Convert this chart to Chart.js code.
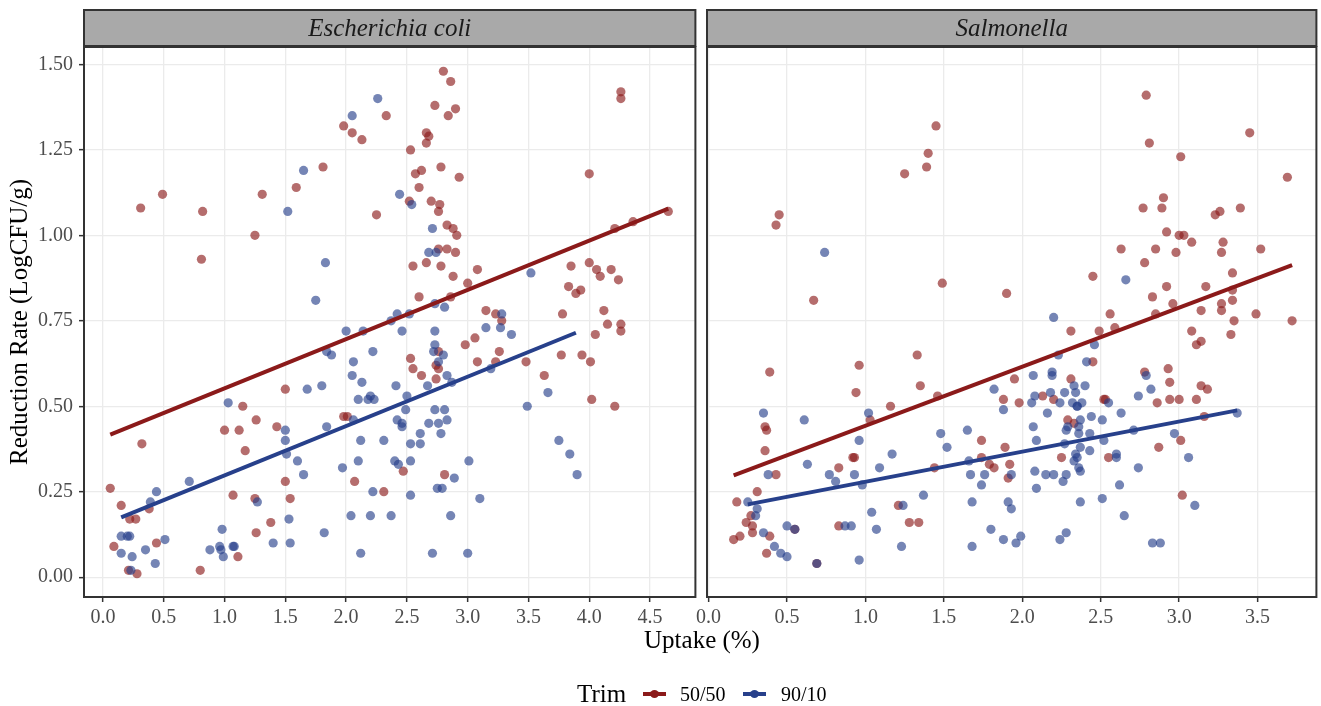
<!DOCTYPE html>
<html>
<head>
<meta charset="utf-8">
<script src="https://cdn.jsdelivr.net/npm/chart.js@4.4.1/dist/chart.umd.min.js"></script>
<style>
  body { margin: 0; background: #fff; font-family: "Liberation Serif", "Times New Roman", serif; }
  #wrap { position: relative; width: 1321px; height: 706px; overflow: hidden; }
  #ecoli { position: absolute; left: 0; top: 0; }
  #salm { position: absolute; left: 690px; top: 0; }
  .xtitle { position: absolute; left: 602px; top: 625px; width: 200px; text-align: center; font-size: 25px; line-height: 30px; color: #000; }
  .lg { position: absolute; color: #000; white-space: nowrap; }
  .key { position: absolute; top: 692px; width: 23px; height: 4px; }
  .key::after { content: ''; position: absolute; left: 7px; top: -2px; width: 9px; height: 8px; border-radius: 50%; background: inherit; }
</style>
</head>
<body>
<div id="wrap">
  <canvas id="ecoli" width="700" height="706"></canvas>
  <canvas id="salm" width="631" height="706"></canvas>
  <div class="xtitle">Uptake (%)</div>
  <div class="lg" style="left:577px;top:679px;font-size:25px;line-height:30px">Trim</div>
  <div class="key" style="left:643px;background:#8B1A1A"></div>
  <div class="lg" style="left:680px;top:682px;font-size:20px;line-height:24px">50/50</div>
  <div class="key" style="left:743px;background:#27408B"></div>
  <div class="lg" style="left:781px;top:682px;font-size:20px;line-height:24px">90/10</div>
</div>
<script>
// tick labels
const yTicks = [0, 0.25, 0.5, 0.75, 1.0, 1.25, 1.5];
const ecoliXTicks = [0, 0.5, 1.0, 1.5, 2.0, 2.5, 3.0, 3.5, 4.0, 4.5];
const salmXTicks = [0, 0.5, 1.0, 1.5, 2.0, 2.5, 3.0, 3.5];

// Escherichia coli, [uptake, reduction]
const ecoli5050 = [
  [0.06,0.26],[0.09,0.09],[0.15,0.21],[0.21,0.02],[0.22,0.17],[0.27,0.17],[0.28,0.01],[0.31,1.08],[0.32,0.39],[0.38,0.20],
  [0.44,0.10],[0.49,1.12],[0.80,0.02],[0.81,0.93],[0.82,1.07],[1.00,0.43],[1.07,0.24],[1.11,0.06],[1.12,0.43],[1.15,0.50],
  [1.17,0.37],[1.25,1.00],[1.25,0.23],[1.26,0.46],[1.26,0.13],[1.31,1.12],[1.38,0.16],[1.43,0.44],[1.50,0.55],[1.50,0.28],
  [1.54,0.23],[1.59,1.14],[1.81,1.20],[1.98,1.32],[1.98,0.47],[2.01,0.47],[2.05,1.30],[2.07,0.28],[2.13,1.28],[2.25,1.06],
  [2.31,0.25],[2.33,1.35],[2.47,0.31],[2.52,1.10],[2.53,1.25],[2.53,0.64],[2.55,0.91],[2.55,0.61],[2.57,1.18],[2.60,1.14],
  [2.60,0.82],[2.62,1.19],[2.62,0.59],[2.66,1.30],[2.66,1.27],[2.66,0.92],[2.68,1.29],[2.70,1.10],[2.73,1.38],[2.74,0.62],
  [2.74,0.58],[2.76,1.07],[2.76,0.96],[2.76,0.66],[2.76,0.61],[2.77,1.09],[2.78,1.20],[2.78,0.91],[2.80,1.48],[2.81,0.30],
  [2.83,1.03],[2.83,0.96],[2.84,1.35],[2.86,1.45],[2.86,0.82],[2.88,1.02],[2.88,0.88],[2.90,1.37],[2.90,0.95],[2.91,1.00],
  [2.93,1.17],[2.98,0.68],[3.00,0.86],[3.06,0.70],[3.08,0.90],[3.08,0.63],[3.15,0.78],[3.23,0.77],[3.23,0.63],[3.26,0.66],
  [3.28,0.75],[3.48,0.63],[3.63,0.59],[3.77,0.65],[3.78,0.77],[3.83,0.85],[3.85,0.91],[3.89,0.83],[3.93,0.84],[3.94,0.65],
  [4.00,1.18],[4.00,0.92],[4.01,0.63],[4.02,0.52],[4.05,0.71],[4.06,0.90],[4.09,0.88],[4.12,0.78],[4.15,0.74],[4.18,0.90],
  [4.21,1.02],[4.21,0.50],[4.24,0.87],[4.26,1.42],[4.26,1.40],[4.26,0.74],[4.26,0.72],[4.36,1.04],[4.65,1.07]
];
const ecoli9010 = [
  [0.15,0.12],[0.15,0.07],[0.20,0.12],[0.22,0.12],[0.23,0.02],[0.24,0.06],[0.35,0.08],[0.39,0.22],[0.43,0.04],[0.44,0.25],
  [0.51,0.11],[0.71,0.28],[0.88,0.08],[0.96,0.09],[0.97,0.08],[0.98,0.14],[0.99,0.06],[1.03,0.51],[1.07,0.09],[1.08,0.09],
  [1.27,0.22],[1.40,0.10],[1.50,0.43],[1.50,0.40],[1.51,0.36],[1.52,1.07],[1.53,0.17],[1.54,0.10],[1.60,0.34],[1.65,1.19],
  [1.65,0.30],[1.68,0.55],[1.75,0.81],[1.80,0.56],[1.82,0.13],[1.83,0.92],[1.84,0.66],[1.84,0.44],[1.88,0.65],[1.97,0.32],
  [2.00,0.72],[2.04,0.18],[2.05,1.35],[2.05,0.59],[2.06,0.63],[2.06,0.46],[2.10,0.52],[2.10,0.34],[2.12,0.40],[2.12,0.07],
  [2.13,0.57],[2.14,0.72],[2.18,0.52],[2.20,0.53],[2.20,0.18],[2.22,0.66],[2.22,0.25],[2.23,0.52],[2.26,1.40],[2.31,0.40],
  [2.37,0.75],[2.37,0.18],[2.40,0.34],[2.41,0.56],[2.42,0.77],[2.42,0.46],[2.43,0.33],[2.44,1.12],[2.46,0.72],[2.46,0.45],
  [2.46,0.44],[2.49,0.49],[2.50,0.53],[2.52,0.77],[2.53,0.39],[2.53,0.34],[2.53,0.24],[2.54,1.09],[2.61,0.42],[2.61,0.39],
  [2.67,0.56],[2.68,0.95],[2.68,0.45],[2.71,1.02],[2.71,0.07],[2.72,0.66],[2.73,0.80],[2.73,0.72],[2.73,0.68],[2.73,0.49],
  [2.74,0.95],[2.75,0.26],[2.76,0.63],[2.76,0.45],[2.78,0.42],[2.79,0.26],[2.80,0.65],[2.81,0.79],[2.81,0.49],[2.83,0.59],
  [2.83,0.46],[2.86,0.18],[2.87,0.57],[2.89,0.29],[3.00,0.07],[3.01,0.34],[3.10,0.23],[3.15,0.73],[3.19,0.61],[3.27,0.73],
  [3.28,0.77],[3.36,0.71],[3.49,0.50],[3.52,0.89],[3.66,0.54],[3.75,0.40],[3.84,0.36],[3.90,0.30]
];

// Salmonella, [uptake, reduction]
const salm5050 = [
  [0.16,0.11],[0.18,0.22],[0.20,0.12],[0.24,0.16],[0.27,0.18],[0.28,0.15],[0.28,0.13],[0.31,0.25],[0.36,0.44],[0.36,0.37],
  [0.37,0.43],[0.37,0.07],[0.39,0.60],[0.39,0.12],[0.43,1.03],[0.43,0.30],[0.45,1.06],[0.55,0.14],[0.67,0.81],[0.69,0.04],
  [0.83,0.32],[0.83,0.15],[0.92,0.35],[0.93,0.35],[0.94,0.54],[0.96,0.62],[1.03,0.46],[1.16,0.50],[1.21,0.21],[1.25,1.18],
  [1.28,0.16],[1.33,0.65],[1.34,0.16],[1.35,0.56],[1.39,1.20],[1.40,1.24],[1.44,0.32],[1.45,1.32],[1.46,0.53],[1.49,0.86],
  [1.74,0.40],[1.74,0.35],[1.79,0.33],[1.82,0.32],[1.88,0.52],[1.89,0.38],[1.90,0.83],[1.91,0.29],[1.92,0.33],[1.95,0.58],
  [1.98,0.51],[2.13,0.53],[2.20,0.52],[2.25,0.35],[2.29,0.46],[2.31,0.72],[2.31,0.58],[2.33,0.45],[2.45,0.88],[2.45,0.63],
  [2.49,0.72],[2.52,0.52],[2.53,0.52],[2.55,0.35],[2.56,0.77],[2.59,0.73],[2.63,0.96],[2.77,1.08],[2.78,0.92],[2.78,0.60],
  [2.79,1.41],[2.81,1.27],[2.83,0.82],[2.85,0.96],[2.85,0.77],[2.86,0.51],[2.87,0.38],[2.89,1.08],[2.90,1.11],[2.92,1.01],
  [2.92,0.85],[2.93,0.61],[2.94,0.57],[2.94,0.52],[2.96,0.80],[2.98,0.95],[3.00,1.00],[3.00,0.52],[3.01,1.23],[3.01,0.40],
  [3.02,0.24],[3.03,1.00],[3.08,0.98],[3.08,0.72],[3.11,0.68],[3.11,0.52],[3.14,0.78],[3.14,0.69],[3.14,0.56],[3.16,0.47],
  [3.17,0.85],[3.18,0.55],[3.23,1.06],[3.26,1.07],[3.27,0.95],[3.27,0.80],[3.27,0.78],[3.28,0.98],[3.33,0.71],[3.34,0.89],
  [3.34,0.84],[3.34,0.81],[3.35,0.75],[3.39,1.08],[3.45,1.30],[3.49,0.77],[3.52,0.96],[3.69,1.17],[3.72,0.75]
];
const salm9010 = [
  [0.25,0.22],[0.30,0.18],[0.31,0.20],[0.35,0.48],[0.35,0.13],[0.38,0.30],[0.42,0.09],[0.46,0.07],[0.50,0.15],[0.50,0.06],
  [0.55,0.14],[0.61,0.46],[0.63,0.33],[0.69,0.04],[0.74,0.95],[0.77,0.30],[0.81,0.28],[0.87,0.15],[0.91,0.15],[0.93,0.30],
  [0.96,0.40],[0.96,0.05],[0.98,0.27],[1.02,0.48],[1.04,0.19],[1.07,0.14],[1.09,0.32],[1.17,0.36],[1.23,0.09],[1.24,0.21],
  [1.37,0.24],[1.48,0.42],[1.52,0.38],[1.65,0.43],[1.66,0.34],[1.67,0.30],[1.68,0.22],[1.68,0.09],[1.74,0.27],[1.76,0.30],
  [1.80,0.14],[1.82,0.55],[1.88,0.49],[1.88,0.11],[1.91,0.22],[1.93,0.30],[1.93,0.20],[1.96,0.10],[1.99,0.12],[2.06,0.51],
  [2.07,0.59],[2.07,0.44],[2.08,0.53],[2.08,0.31],[2.09,0.40],[2.09,0.26],[2.15,0.30],[2.16,0.48],[2.18,0.54],[2.19,0.59],
  [2.19,0.60],[2.20,0.76],[2.20,0.30],[2.23,0.65],[2.24,0.51],[2.24,0.11],[2.26,0.28],[2.27,0.54],[2.27,0.39],[2.28,0.43],
  [2.28,0.30],[2.28,0.13],[2.29,0.44],[2.32,0.51],[2.33,0.56],[2.33,0.34],[2.34,0.54],[2.34,0.36],[2.35,0.50],[2.35,0.50],
  [2.35,0.35],[2.36,0.44],[2.36,0.42],[2.36,0.32],[2.37,0.46],[2.37,0.38],[2.37,0.31],[2.37,0.22],[2.38,0.51],[2.40,0.56],
  [2.41,0.63],[2.43,0.42],[2.43,0.37],[2.44,0.47],[2.46,0.68],[2.51,0.46],[2.51,0.23],[2.52,0.40],[2.55,0.51],[2.60,0.36],
  [2.60,0.35],[2.62,0.27],[2.63,0.48],[2.65,0.18],[2.66,0.87],[2.71,0.43],[2.74,0.53],[2.74,0.32],[2.79,0.59],[2.82,0.55],
  [2.83,0.10],[2.88,0.10],[2.97,0.42],[3.06,0.35],[3.10,0.21],[3.37,0.48]
];

// fitted lines (ends)
const ecoliFit5050 = [[0.06,0.417],[4.65,1.078]];
const ecoliFit9010 = [[0.15,0.175],[3.89,0.715]];
const salmFit5050 = [[0.16,0.298],[3.72,0.913]];
const salmFit9010 = [[0.25,0.213],[3.37,0.488]];

const RED = '#8B1A1A';
const BLUE = '#27408B';
const FONT = '"Liberation Serif", "Times New Roman", serif';

const toXY = arr => arr.map(p => ({ x: p[0], y: p[1] }));

// strip background + panel border
const facetFrame = {
  id: 'facetFrame',
  beforeDraw(chart) {
    const { ctx, chartArea: a } = chart;
    ctx.save();
    ctx.fillStyle = '#A9A9A9';
    ctx.fillRect(a.left, 10, a.right - a.left, 36);
    ctx.strokeStyle = '#333333';
    ctx.lineWidth = 2;
    ctx.strokeRect(a.left, 10, a.right - a.left, 36);
    ctx.restore();
  },
  afterDraw(chart) {
    const { ctx, chartArea: a } = chart;
    ctx.save();
    ctx.strokeStyle = '#333333';
    ctx.lineWidth = 2;
    ctx.strokeRect(a.left, a.top, a.right - a.left, a.bottom - a.top);
    ctx.restore();
  }
};

function makeDatasets(p5050, p9010, f5050, f9010) {
  return [
    { data: toXY(f5050), showLine: true, borderColor: RED, borderWidth: 4, pointRadius: 0, order: 0 },
    { data: toXY(f9010), showLine: true, borderColor: BLUE, borderWidth: 4, pointRadius: 0, order: 0 },
    { label: '90/10', data: toXY(p9010), backgroundColor: 'rgba(39,64,139,0.64)', borderWidth: 0, pointRadius: 4.6, order: 1 },
    { label: '50/50', data: toXY(p5050), backgroundColor: 'rgba(139,26,26,0.64)', borderWidth: 0, pointRadius: 4.6, order: 2 }
  ];
}

function makeOptions(title, xMin, xMax, xTicks, first) {
  return {
    responsive: false,
    animation: false,
    events: [],
    layout: { padding: { left: first ? 0 : 17, right: first ? 3 : 3, top: 0, bottom: 79 } },
    plugins: {
      legend: { display: false },
      tooltip: { enabled: false },
      title: {
        display: true, text: title, fullSize: false, color: '#1A1A1A',
        font: { family: FONT, size: 25, style: 'italic', weight: 'normal' },
        padding: { top: 14, bottom: 3 }
      }
    },
    scales: {
      x: {
        type: 'linear', min: xMin, max: xMax,
        afterBuildTicks: s => { s.ticks = xTicks.map(v => ({ value: v })); },
        afterFit: s => { s.height = 30; s.paddingLeft = 0; s.paddingRight = 0; },
        ticks: { callback: v => v.toFixed(1), color: '#4D4D4D', font: { family: FONT, size: 20 }, padding: 4, autoSkip: false, maxRotation: 0 },
        grid: { color: '#EBEBEB', lineWidth: 1.3, tickLength: 5, tickColor: '#333333', tickWidth: 1.5 },
        border: { display: false }
      },
      y: {
        type: 'linear', min: -0.058, max: 1.551,
        afterBuildTicks: s => { s.ticks = yTicks.map(v => ({ value: v })); },
        afterFit: s => { s.width = first ? 84 : 0; },
        ticks: { display: first, callback: v => v.toFixed(2), color: '#4D4D4D', font: { family: FONT, size: 20 }, padding: 6 },
        grid: { color: '#EBEBEB', lineWidth: 1.3, drawTicks: first, tickLength: 5, tickColor: '#333333', tickWidth: 1.5 },
        border: { display: false },
        title: {
          display: first, text: 'Reduction Rate (LogCFU/g)', color: '#000',
          font: { family: FONT, size: 25 }, padding: { top: 5, bottom: 0 }
        }
      }
    }
  };
}

new Chart(document.getElementById('ecoli'), {
  type: 'scatter',
  data: { datasets: makeDatasets(ecoli5050, ecoli9010, ecoliFit5050, ecoliFit9010) },
  options: makeOptions('Escherichia coli', -0.156, 4.873, ecoliXTicks, true),
  plugins: [facetFrame]
});

new Chart(document.getElementById('salm'), {
  type: 'scatter',
  data: { datasets: makeDatasets(salm5050, salm9010, salmFit5050, salmFit9010) },
  options: makeOptions('Salmonella', -0.01, 3.875, salmXTicks, false),
  plugins: [facetFrame]
});
</script>
</body>
</html>
